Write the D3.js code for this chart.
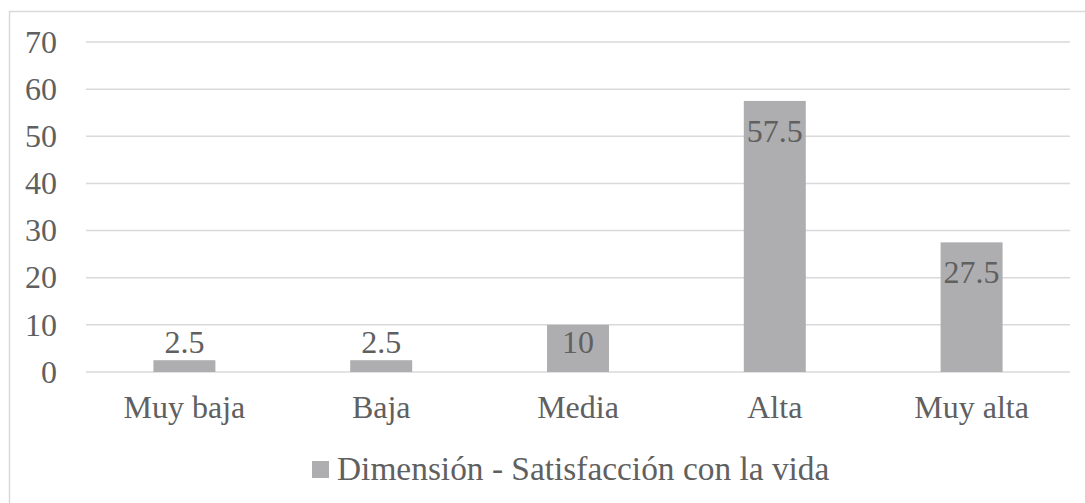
<!DOCTYPE html>
<html>
<head>
<meta charset="utf-8">
<script src="https://cdn.jsdelivr.net/npm/d3@7"></script>
<style>
  body { margin: 0; background: #fff; }
  svg text { font-family: "Liberation Serif", "Times New Roman", Times, serif; }
</style>
</head>
<body>
<script>
// chart data
let categories = ["Muy baja", "Baja", "Media", "Alta", "Muy alta"];
let values = [2.5, 2.5, 10, 57.5, 27.5];
let yTicks = [0, 10, 20, 30, 40, 50, 60, 70];
let seriesName = "Dimensión - Satisfacción con la vida";

let serif = "'Liberation Serif', 'Times New Roman', Times, serif";

let svg = d3.select("body").append("svg")
  .attr("width", 1085)
  .attr("height", 503);

let width = +svg.attr("width");
let height = +svg.attr("height");

let textColor = "#606060";
let barColor = "#aeaeb0";
let gridColor = "#d9d9d9";

// outer chart border (runs off the right and bottom edges like the original)
svg.append("rect")
  .attr("x", 9.5)
  .attr("y", 11.5)
  .attr("width", width)
  .attr("height", height)
  .attr("fill", "none")
  .attr("stroke", gridColor)
  .attr("stroke-width", 1.5);

let margin = { top: 42, right: 15, bottom: 131, left: 86 };

let x = d3.scaleBand()
  .domain(categories)
  .range([margin.left, width - margin.right])
  .paddingInner(0.685)
  .paddingOuter(0.3425);

let y = d3.scaleLinear()
  .domain([0, 70])
  .range([height - margin.bottom, margin.top]);

// gridlines
svg.append("g")
  .selectAll("line")
  .data(yTicks)
  .enter().append("line")
  .attr("x1", margin.left)
  .attr("x2", width - margin.right)
  .attr("y1", d => y(d))
  .attr("y2", d => y(d))
  .attr("stroke", gridColor)
  .attr("stroke-width", 1.5);

// y axis labels
let yAxis = d3.axisLeft(y).tickValues(yTicks).tickSize(0).tickPadding(0);
let yg = svg.append("g")
  .attr("transform", `translate(${margin.left - 29}, 0)`)
  .call(yAxis);
yg.select(".domain").remove();
yg.selectAll("text")
  .style("font-family", serif)
  .attr("font-size", 32)
  .attr("fill", textColor);

// bars
svg.append("g")
  .selectAll("rect")
  .data(values)
  .enter().append("rect")
  .attr("x", (d, i) => x(categories[i]))
  .attr("y", d => y(d))
  .attr("width", x.bandwidth())
  .attr("height", d => y(0) - y(d))
  .attr("fill", barColor);

// value labels (inside end, pushed above if the bar is too short)
svg.append("g")
  .selectAll("text")
  .data(values)
  .enter().append("text")
  .attr("x", (d, i) => x(categories[i]) + x.bandwidth() / 2)
  .attr("y", d => y(d) + Math.min(41, (y(0) - y(d)) - 19))
  .attr("text-anchor", "middle")
  .style("font-family", serif)
  .attr("font-size", 32)
  .attr("fill", textColor)
  .text(d => d);

// x axis labels
let xAxis = d3.axisBottom(x).tickSize(0).tickPadding(0);
let xg = svg.append("g")
  .attr("transform", `translate(0, ${y(0) + 23})`)
  .call(xAxis);
xg.select(".domain").remove();
xg.selectAll("text")
  .style("font-family", serif)
  .attr("font-size", 32)
  .attr("fill", textColor);

// legend
let legend = svg.append("g")
  .attr("transform", "translate(312, 461)");

legend.append("rect")
  .attr("width", 17)
  .attr("height", 17)
  .attr("fill", barColor);

legend.append("text")
  .attr("x", 25)
  .attr("y", 19)
  .style("font-family", serif)
  .attr("font-size", 33.4)
  .attr("fill", textColor)
  .text(seriesName);
</script>
</body>
</html>
